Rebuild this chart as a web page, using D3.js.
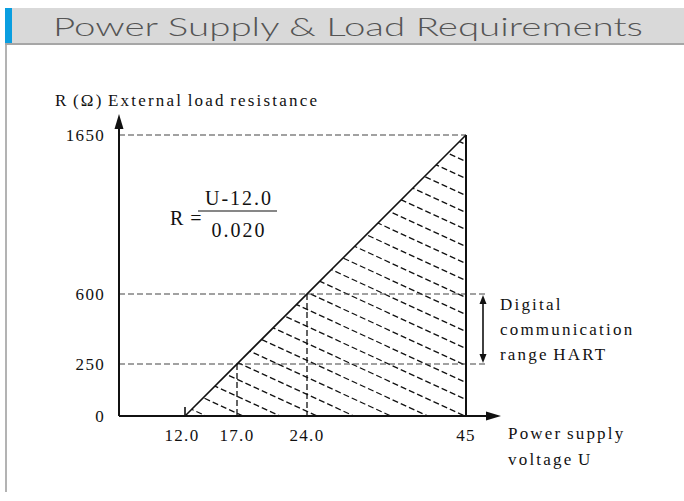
<!DOCTYPE html>
<html>
<head>
<meta charset="utf-8">
<script src="https://cdn.jsdelivr.net/npm/d3@7"></script>
<style>
  html, body { margin: 0; padding: 0; background: #fff; }
  svg { display: block; }
  .lbl { font-family: "Liberation Serif", serif; font-size: 17px; fill: #111; letter-spacing: 2.2px; word-spacing: -2px; }
  .num { letter-spacing: 1.3px; }
  .frm { font-size: 20px; letter-spacing: 2px; }
</style>
</head>
<body>
<svg width="684" height="501"></svg>
<script>
// values
var voltageTicks = [12.0, 17.0, 24.0, 45];
var voltageLabels = ['12.0', '17.0', '24.0', '45'];
var resistanceTicks = [0, 250, 600, 1650];
var resistanceLabels = ['0', '250', '600', '1650'];
var loadLine = [{ u: 12.0, r: 0 }, { u: 45, r: 1650 }];
var hartRange = [250, 600];
var hartTicks = [{ u: 17.0, r: 250 }, { u: 24.0, r: 600 }];

// the drawing is schematic, not to scale: spacing of the ticks in px
var tickSpacing = [0, 52, 122, 281];

function drawChart() {
  var svg = d3.select('svg');
  svg.selectAll('*').remove();

  // header
  svg.append('rect').attr('x', 5).attr('y', 8).attr('width', 679).attr('height', 35).attr('fill', '#d9d9d9');
  svg.append('rect').attr('x', 5).attr('y', 8).attr('width', 7).attr('height', 35).attr('fill', '#0a9ee0');
  svg.append('rect').attr('x', 5).attr('y', 43).attr('width', 679).attr('height', 2).attr('fill', '#a6a6a6');
  svg.append('rect').attr('x', 5).attr('y', 45).attr('width', 2).attr('height', 447).attr('fill', '#b3b3b3');
  svg.append('text')
    .attr('x', 53).attr('y', 36)
    .attr('font-family', 'Lato, sans-serif')
    .attr('font-weight', 300)
    .attr('font-size', 26)
    .attr('textLength', 590)
    .attr('lengthAdjust', 'spacingAndGlyphs')
    .attr('fill', '#555')
    .text('Power Supply & Load Requirements');

  var axisX = 119, axisY = 416, x0 = 185;
  var x = d3.scaleLinear()
    .domain(voltageTicks)
    .range(tickSpacing.map(function (p) { return x0 + p; }));
  var y = d3.scaleLinear()
    .domain(resistanceTicks)
    .range(tickSpacing.map(function (p) { return axisY - p; }));

  var g = svg.append('g');

  // hatch inside the working area
  var area = [[12.0, 0], [45, 0], [45, 1650]];
  svg.append('clipPath').attr('id', 'tri')
    .append('path')
    .attr('d', 'M' + area.map(function (d) { return x(d[0]) + ',' + y(d[1]); }).join('L') + 'Z');
  var slope = 0.46, step = 17;
  var hl = x(12.0) - 5, hr = x(45) + 5;
  var offs = d3.range(-160, 300, step);
  g.append('g').attr('clip-path', 'url(#tri)')
    .selectAll('line').data(offs).enter().append('line')
    .attr('x1', hl).attr('y1', function (d) { return y(0) - d - 300 * slope; })
    .attr('x2', hr).attr('y2', function (d) { return y(0) - d - 300 * slope + (hr - hl) * slope; })
    .attr('stroke', '#111').attr('stroke-width', 1.3).attr('stroke-dasharray', '6,3');

  // dashed guides
  g.append('line')
    .attr('x1', axisX).attr('x2', x(45))
    .attr('y1', y(1650)).attr('y2', y(1650))
    .attr('stroke', '#444').attr('stroke-width', 1.2).attr('stroke-dasharray', '6,3');
  g.selectAll('line.hart').data(hartRange).enter().append('line')
    .attr('class', 'hart')
    .attr('x1', axisX).attr('x2', x(45) + 22)
    .attr('y1', function (d) { return y(d); }).attr('y2', function (d) { return y(d); })
    .attr('stroke', '#444').attr('stroke-width', 1.2).attr('stroke-dasharray', '6,3');
  g.selectAll('line.vt').data(hartTicks).enter().append('line')
    .attr('class', 'vt')
    .attr('x1', function (d) { return x(d.u); }).attr('x2', function (d) { return x(d.u); })
    .attr('y1', function (d) { return y(d.r); }).attr('y2', axisY)
    .attr('stroke', '#111').attr('stroke-width', 1.3).attr('stroke-dasharray', '6,3');

  // load line and right edge
  g.append('path')
    .datum(loadLine)
    .attr('d', d3.line().x(function (d) { return x(d.u); }).y(function (d) { return y(d.r); }))
    .attr('fill', 'none').attr('stroke', '#111').attr('stroke-width', 1.6);
  g.append('line')
    .attr('x1', x(45)).attr('x2', x(45)).attr('y1', y(1650)).attr('y2', axisY)
    .attr('stroke', '#111').attr('stroke-width', 2);
  g.append('line')
    .attr('x1', x(12.0)).attr('x2', x(12.0)).attr('y1', axisY - 9).attr('y2', axisY)
    .attr('stroke', '#111').attr('stroke-width', 1.6);

  // axes
  g.append('line').attr('x1', axisX).attr('x2', axisX).attr('y1', axisY).attr('y2', 126)
    .attr('stroke', '#111').attr('stroke-width', 2);
  g.append('path').attr('d', 'M' + axisX + ',114L' + (axisX - 4.5) + ',129L' + (axisX + 4.5) + ',129Z').attr('fill', '#111');
  g.append('line').attr('x1', axisX).attr('x2', 488).attr('y1', axisY).attr('y2', axisY)
    .attr('stroke', '#111').attr('stroke-width', 2);
  g.append('path').attr('d', 'M501,' + axisY + 'L486,' + (axisY - 4.5) + 'L486,' + (axisY + 4.5) + 'Z').attr('fill', '#111');

  // tick labels
  g.selectAll('text.yl').data(resistanceTicks).enter().append('text')
    .attr('class', 'lbl num yl')
    .attr('x', 105).attr('y', function (d) { return y(d) + 6; })
    .attr('text-anchor', 'end')
    .text(function (d, i) { return resistanceLabels[i]; });
  g.selectAll('text.xl').data(voltageTicks).enter().append('text')
    .attr('class', 'lbl num xl')
    .attr('x', function (d) { return x(d) + (d === 12.0 ? -3 : 0); }).attr('y', 441)
    .attr('text-anchor', 'middle')
    .text(function (d, i) { return voltageLabels[i]; });

  // axis titles
  g.append('text').attr('class', 'lbl').attr('x', 55).attr('y', 106).text('R (Ω) External load resistance');
  g.append('text').attr('class', 'lbl').attr('x', 508).attr('y', 439).text('Power supply');
  g.append('text').attr('class', 'lbl').attr('x', 508).attr('y', 465).text('voltage U');

  // formula
  g.append('text').attr('class', 'lbl frm').attr('x', 170).attr('y', 225).text('R =');
  g.append('text').attr('class', 'lbl frm').attr('x', 239).attr('y', 205).attr('text-anchor', 'middle').text('U-12.0');
  g.append('line').attr('x1', 198).attr('x2', 277).attr('y1', 211).attr('y2', 211).attr('stroke', '#111').attr('stroke-width', 1.2);
  g.append('text').attr('class', 'lbl frm').attr('x', 239).attr('y', 237).attr('text-anchor', 'middle').text('0.020');

  // HART range arrow
  var ax = x(45) + 17;
  g.append('line').attr('x1', ax).attr('x2', ax).attr('y1', y(600) + 6).attr('y2', y(250) - 6)
    .attr('stroke', '#111').attr('stroke-width', 1.6);
  g.append('path').attr('d', 'M' + ax + ',' + (y(600) + 1) + 'L' + (ax - 3.5) + ',' + (y(600) + 10) + 'L' + (ax + 3.5) + ',' + (y(600) + 10) + 'Z').attr('fill', '#111');
  g.append('path').attr('d', 'M' + ax + ',' + (y(250) - 1) + 'L' + (ax - 3.5) + ',' + (y(250) - 10) + 'L' + (ax + 3.5) + ',' + (y(250) - 10) + 'Z').attr('fill', '#111');
  g.append('text').attr('class', 'lbl').attr('x', 500).attr('y', 310).text('Digital');
  g.append('text').attr('class', 'lbl').attr('x', 500).attr('y', 335).text('communication');
  g.append('text').attr('class', 'lbl').attr('x', 500).attr('y', 360).text('range HART');
}

drawChart();
</script>
</body>
</html>
